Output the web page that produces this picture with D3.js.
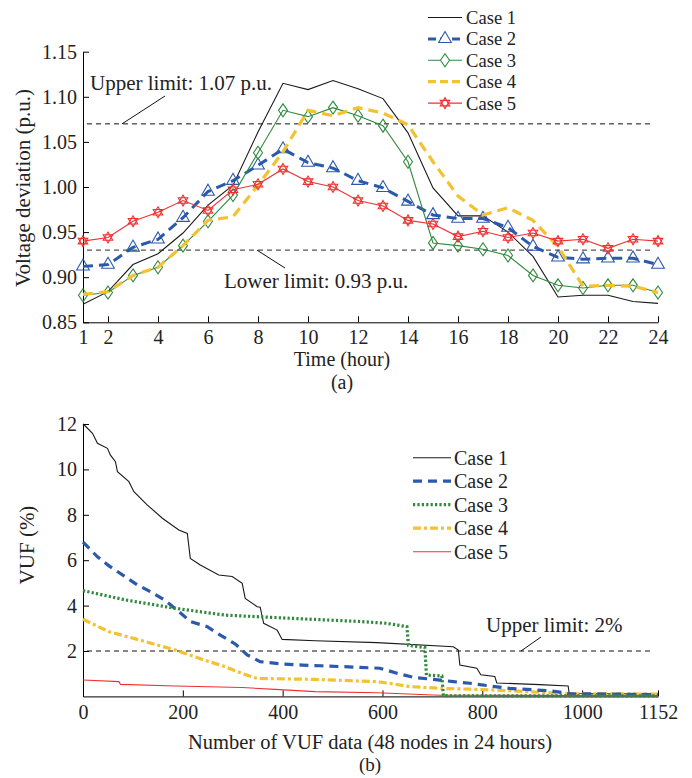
<!DOCTYPE html>
<html>
<head>
<meta charset="utf-8">
<script src="https://cdn.jsdelivr.net/npm/d3@7"></script>
<style>
  body { margin: 0; background: #fff; }
  svg text { font-family: "Liberation Serif", "Times New Roman", serif; fill: #222; }
</style>
</head>
<body>
<div id="chart"></div>
<script>
// ---- (a) voltage per hour ----
const hours = d3.range(1, 25);
const v1 = [0.870,0.884,0.914,0.926,0.949,0.980,1.002,1.061,1.115,1.108,1.118,1.109,1.098,1.060,0.999,0.968,0.968,0.950,0.923,0.878,0.880,0.880,0.873,0.871];
const v2 = [0.912,0.914,0.933,0.942,0.966,0.995,1.007,1.024,1.042,1.027,1.021,1.007,0.999,0.984,0.969,0.965,0.965,0.955,0.934,0.922,0.920,0.921,0.921,0.914];
const v3 = [0.880,0.883,0.902,0.911,0.935,0.962,0.991,1.038,1.085,1.078,1.088,1.079,1.068,1.028,0.938,0.935,0.931,0.924,0.902,0.891,0.888,0.891,0.891,0.883];
const v4 = [0.881,0.884,0.902,0.911,0.935,0.963,0.967,1.002,1.039,1.085,1.079,1.088,1.082,1.069,1.028,0.990,0.969,0.977,0.963,0.934,0.890,0.891,0.890,0.883];
const v5 = [0.940,0.944,0.962,0.972,0.985,0.974,0.997,1.003,1.020,1.006,1.000,0.985,0.979,0.963,0.959,0.945,0.951,0.944,0.949,0.940,0.942,0.932,0.942,0.940];
const voltTicks = [0.85, 0.90, 0.95, 1.00, 1.05, 1.10, 1.15];
const hourTicks = [1, 2, 4, 6, 8, 10, 12, 14, 16, 18, 20, 22, 24];
const upperLimit = 1.07, lowerLimit = 0.93;

// ---- (b) sorted VUF values (index, %) ----
const idx1 = [0,5,19,29,49,55,65,69,92,102,129,159,192,209,215,235,272,299,319,325,349,355,362,389,399,465,589,742,752,755,789,797,825,829,915,972,974,1078,1152];
const vuf1 = [12.0,11.9,11.59,11.15,10.93,10.63,10.34,9.90,9.46,9.02,8.43,7.85,7.33,7.18,6.08,5.79,5.35,5.28,4.98,4.32,3.95,3.93,3.22,2.92,2.51,2.45,2.37,2.19,2.04,1.38,1.24,0.95,0.88,0.59,0.52,0.46,0.13,0.12,0.10];
const idx2 = [0,29,52,82,109,139,165,192,215,249,275,305,329,355,399,439,475,555,595,629,662,702,742,775,815,855,935,975,1152];
const vuf2 = [6.8,6.15,5.75,5.31,4.91,4.57,4.22,3.74,3.30,3.07,2.70,2.31,1.83,1.53,1.43,1.38,1.35,1.28,1.24,1.02,0.84,0.75,0.65,0.58,0.46,0.35,0.25,0.12,0.08];
const idx3 = [0,85,185,285,359,465,555,609,649,652,685,688,719,722,1152];
const vuf3 = [4.66,4.25,3.88,3.58,3.50,3.39,3.30,3.22,3.07,2.25,2.15,0.94,0.90,0.03,0.02];
const idx4 = [0,52,119,185,239,285,319,349,465,589,622,655,722,789,855,935,975,1152];
const vuf4 = [3.40,2.85,2.45,2.04,1.63,1.31,1.01,0.79,0.75,0.65,0.55,0.43,0.35,0.31,0.25,0.16,0.12,0.10];
const idx5 = [0,72,75,185,319,385,465,589,715,1152];
const vuf5 = [0.72,0.65,0.53,0.46,0.39,0.31,0.21,0.16,0.05,0.04];
const vufTicks = [2, 4, 6, 8, 10, 12];
const idxTicks = [0, 200, 400, 600, 800, 1000, 1152];
const vufLimit = 2;

const caseNames = ["Case 1", "Case 2", "Case 3", "Case 4", "Case 5"];
const colors = ["#1a1a1a", "#2b59ab", "#2f8a3c", "#f2c230", "#f03030"];

const width = 692, height = 778;
const svg = d3.select("#chart").append("svg")
  .attr("width", width).attr("height", height);

//hexagram marker, two overlapping triangles
function star(r) {
  const tri = a0 => d3.range(3).map(i => {
    const a = (a0 + i * 120) * Math.PI / 180;
    return [r * Math.cos(a), r * Math.sin(a)];
  });
  const p = t => "M" + t.map(d => d.join(",")).join("L") + "Z";
  return p(tri(-90)) + p(tri(90));
}
const markerPath = [
  null,
  d3.symbol(d3.symbolTriangle, 70)(),
  "M0,-6.5L4.5,0L0,6.5L-4.5,0Z",
  null,
  star(5.5)
];
const topStyle = [
  { w: 1.1, dash: null },
  { w: 3, dash: "10,6" },
  { w: 1.1, dash: null },
  { w: 3.2, dash: "10,6" },
  { w: 1.1, dash: null }
];

// ================= chart (a) =================
const xA = d3.scaleLinear().domain([1, 24]).range([83, 658]);
const yA = d3.scaleLinear().domain([0.85, 1.15]).range([322.3, 51.7]);

svg.append("g")
  .attr("transform", "translate(0,322.3)")
  .call(d3.axisBottom(xA).tickValues(hourTicks).tickSizeInner(-6).tickSizeOuter(0).tickPadding(8))
  .call(g => g.selectAll("text").attr("font-size", 20).attr("font-family", "Liberation Serif"));
svg.append("g")
  .attr("transform", "translate(83,0)")
  .call(d3.axisLeft(yA).tickValues(voltTicks).tickFormat(d3.format(".2f")).tickSizeInner(-6).tickSizeOuter(0).tickPadding(6))
  .call(g => g.selectAll("text").attr("font-size", 20).attr("font-family", "Liberation Serif"));

//limit lines
svg.append("line")
  .attr("x1", 87).attr("x2", 653).attr("y1", yA(upperLimit)).attr("y2", yA(upperLimit))
  .attr("stroke", "#111").attr("stroke-width", 1).attr("stroke-dasharray", "5,4");
svg.append("line")
  .attr("x1", 87).attr("x2", 653).attr("y1", yA(lowerLimit)).attr("y2", yA(lowerLimit))
  .attr("stroke", "#555").attr("stroke-width", 1.2).attr("stroke-dasharray", "5,4");

svg.append("text").attr("x", 90).attr("y", 90).attr("font-size", 21).text("Upper limit: 1.07 p.u.");
svg.append("line").attr("x1", 122).attr("y1", yA(upperLimit)).attr("x2", 165).attr("y2", 96)
  .attr("stroke", "#111").attr("stroke-width", 1);
svg.append("text").attr("x", 224).attr("y", 288).attr("font-size", 21).text("Lower limit: 0.93 p.u.");
svg.append("line").attr("x1", 257).attr("y1", yA(lowerLimit)).attr("x2", 285).attr("y2", 268)
  .attr("stroke", "#111").attr("stroke-width", 1);

const lineA = d3.line().x((d, i) => xA(hours[i])).y(d => yA(d));
[v1, v2, v3, v4, v5].forEach((vals, k) => {
  svg.append("path")
    .attr("d", lineA(vals))
    .attr("fill", "none")
    .attr("stroke", colors[k])
    .attr("stroke-width", topStyle[k].w)
    .attr("stroke-dasharray", topStyle[k].dash);
  if (markerPath[k]) {
    svg.selectAll(null).data(vals).enter().append("path")
      .attr("d", markerPath[k])
      .attr("transform", (d, i) => `translate(${xA(hours[i])},${yA(d)})`)
      .attr("fill", "none")
      .attr("stroke", colors[k])
      .attr("stroke-width", 1.1);
  }
});

svg.append("text").attr("x", 342).attr("y", 366).attr("text-anchor", "middle").attr("font-size", 20).text("Time (hour)");
svg.append("text").attr("x", 342).attr("y", 389).attr("text-anchor", "middle").attr("font-size", 20).text("(a)");
svg.append("text").attr("transform", "translate(30,188) rotate(-90)").attr("text-anchor", "middle")
  .attr("font-size", 21).text("Voltage deviation (p.u.)");

//legend (a)
caseNames.forEach((name, k) => {
  const y = 17.5 + k * 21.4;
  svg.append("line").attr("x1", 428).attr("x2", 462).attr("y1", y).attr("y2", y)
    .attr("stroke", colors[k]).attr("stroke-width", topStyle[k].w)
    .attr("stroke-dasharray", topStyle[k].dash ? "8,4" : null);
  if (markerPath[k]) {
    svg.append("path").attr("d", markerPath[k]).attr("transform", `translate(445,${y})`)
      .attr("fill", "#fff").attr("stroke", colors[k]).attr("stroke-width", 1.1);
  }
  svg.append("text").attr("x", 466).attr("y", y + 6.5).attr("font-size", 18.6).text(name);
});

// ================= chart (b) =================
const xB = d3.scaleLinear().domain([0, 1152]).range([83, 658]);
const yB = d3.scaleLinear().domain([0, 12]).range([696.4, 424]);

svg.append("g")
  .attr("transform", "translate(0,696.4)")
  .call(d3.axisBottom(xB).tickValues(idxTicks).tickFormat(d3.format("d")).tickSizeInner(-6).tickSizeOuter(0).tickPadding(8))
  .call(g => g.selectAll("text").attr("font-size", 20).attr("font-family", "Liberation Serif"));
svg.append("g")
  .attr("transform", "translate(83,0)")
  .call(d3.axisLeft(yB).tickValues(vufTicks).tickSizeInner(-6).tickSizeOuter(0).tickPadding(6))
  .call(g => g.selectAll("text").attr("font-size", 20).attr("font-family", "Liberation Serif"));

svg.append("line")
  .attr("x1", 87).attr("x2", 653).attr("y1", yB(vufLimit)).attr("y2", yB(vufLimit))
  .attr("stroke", "#111").attr("stroke-width", 1).attr("stroke-dasharray", "5,4");
svg.append("text").attr("x", 486).attr("y", 632).attr("font-size", 21).text("Upper limit: 2%");
svg.append("line").attr("x1", 541).attr("y1", 637).attr("x2", 521).attr("y2", yB(vufLimit))
  .attr("stroke", "#111").attr("stroke-width", 1);

const botStyle = [
  { w: 1.1, dash: null },
  { w: 3.2, dash: "9,6" },
  { w: 3.2, dash: "2.2,2.2" },
  { w: 3.2, dash: "8,3,3,3" },
  { w: 1.1, dash: null }
];
const idxAll = [idx1, idx2, idx3, idx4, idx5];
const vufAll = [vuf1, vuf2, vuf3, vuf4, vuf5];
// draw in an order so the red and green end up near the bottom as in the figure
[0, 3, 1, 4, 2].forEach(k => {
  const line = d3.line().x((d, i) => xB(idxAll[k][i])).y(d => yB(d));
  svg.append("path")
    .attr("d", line(vufAll[k]))
    .attr("fill", "none")
    .attr("stroke", colors[k])
    .attr("stroke-width", botStyle[k].w)
    .attr("stroke-dasharray", botStyle[k].dash);
});

svg.append("text").attr("x", 370).attr("y", 749).attr("text-anchor", "middle").attr("font-size", 20.5)
  .text("Number of VUF data (48 nodes in 24 hours)");
svg.append("text").attr("x", 370).attr("y", 771).attr("text-anchor", "middle").attr("font-size", 19).text("(b)");
svg.append("text").attr("transform", "translate(34,545) rotate(-90)").attr("text-anchor", "middle")
  .attr("font-size", 21).text("VUF (%)");

//legend (b)
caseNames.forEach((name, k) => {
  const y = 457.7 + k * 23.5;
  svg.append("line").attr("x1", 413).attr("x2", 451).attr("y1", y).attr("y2", y)
    .attr("stroke", colors[k]).attr("stroke-width", botStyle[k].w)
    .attr("stroke-dasharray", botStyle[k].dash);
  svg.append("text").attr("x", 454).attr("y", y + 7).attr("font-size", 20).text(name);
});
</script>
</body>
</html>
